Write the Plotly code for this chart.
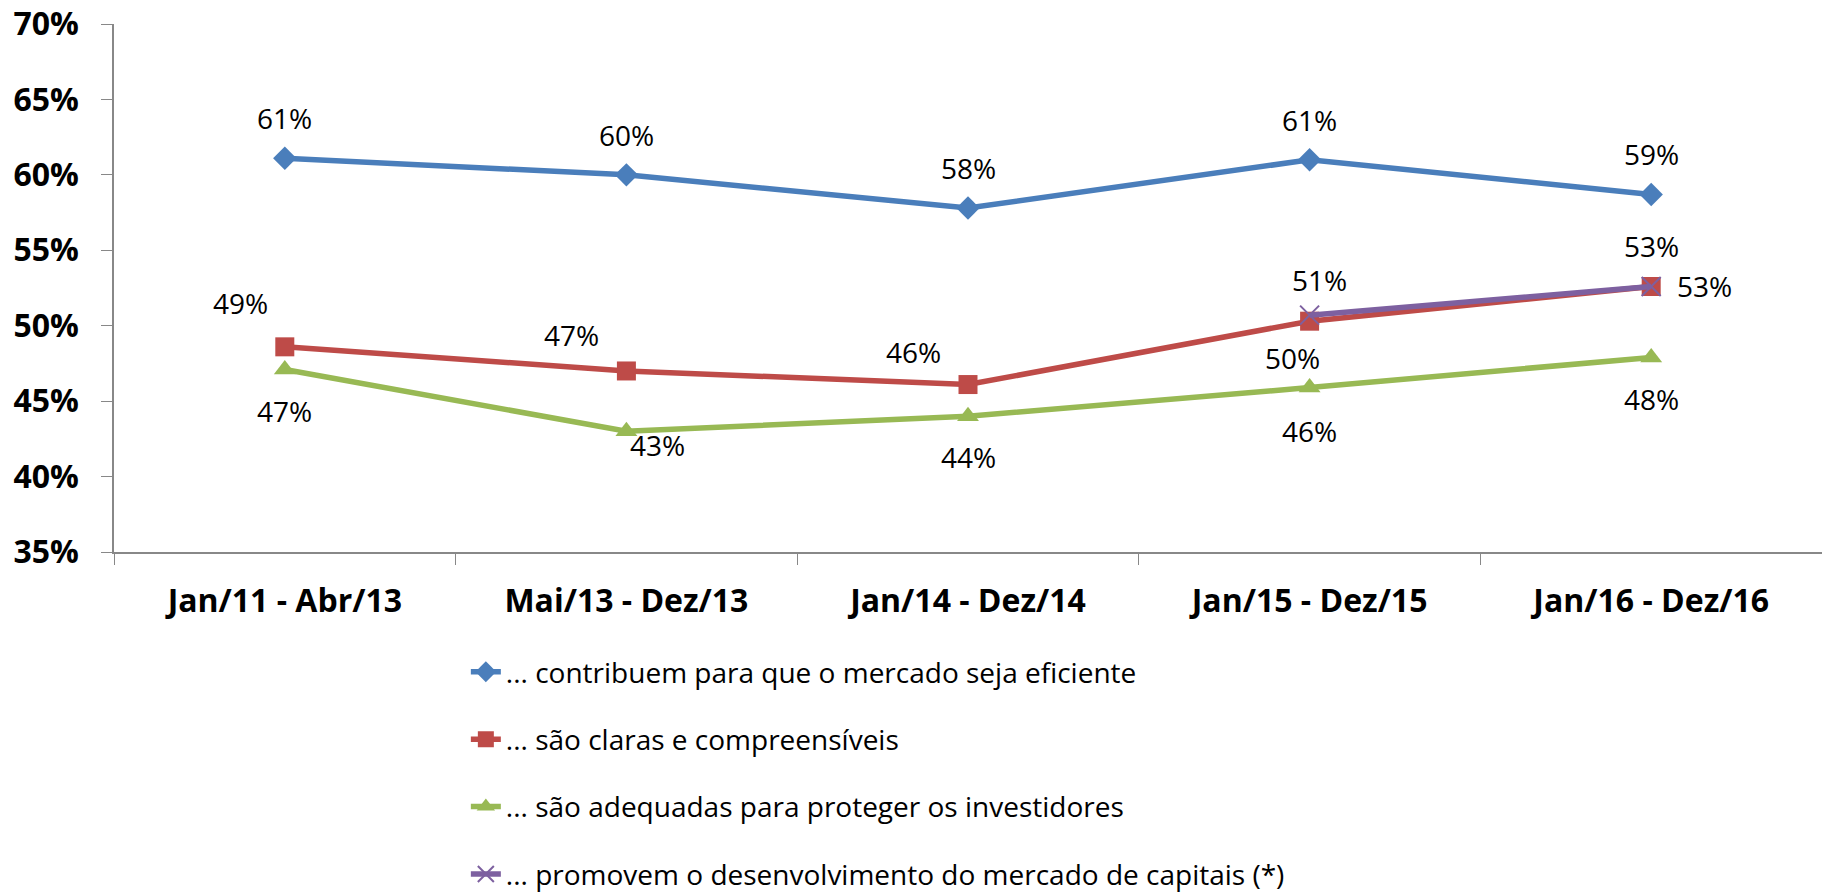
import plotly.graph_objects as go

categories = ["Jan/11 - Abr/13", "Mai/13 - Dez/13", "Jan/14 - Dez/14", "Jan/15 - Dez/15", "Jan/16 - Dez/16"]

series_names = [
    "... contribuem para que o mercado seja eficiente",
    "... são claras e compreensíveis",
    "... são adequadas para proteger os investidores",
    "... promovem o desenvolvimento do mercado de capitais (*)",
]
eficiente = [61.1, 60.0, 57.8, 61.0, 58.7]
claras = [48.6, 47.0, 46.1, 50.3, 52.6]
adequadas = [47.1, 43.0, 44.0, 45.9, 47.9]
promovem = [None, None, None, 50.7, 52.6]

y_ticks = [35, 40, 45, 50, 55, 60, 65, 70]

# styling (not data)
colors = ["#4A7EBB", "#BE4B48", "#98B954", "#7D60A0"]
symbols = ["diamond", "square", "triangle-up", "x-thin"]
sizes = [18, 19, 19, 19]
# label offsets in pixels (dx, dy with dy positive = up)
label_offsets = [
    [(0, 40)] * 5,
    [(-44, 44), (-55, 36), (-55, 33), (-17, -37), (0, 40)],
    [(0, -42), (31, -14), (0, -41), (0, -43), (0, -42)],
    [None, None, None, (10, 35), (53, 0)],
]

FONT = "Open Sans"
all_series = [eficiente, claras, adequadas, promovem]

fig = go.Figure()
for i, (name, vals) in enumerate(zip(series_names, all_series)):
    marker = dict(symbol=symbols[i], size=sizes[i], color=colors[i])
    if symbols[i] == "x-thin":
        marker["line"] = dict(color=colors[i], width=2)
    fig.add_trace(go.Scatter(
        x=categories, y=vals, name=name, mode="lines+markers",
        line=dict(color=colors[i], width=5.5),
        marker=marker, legendgroup=f"g{i}", connectgaps=False,
        hoverinfo="skip",
    ))
    for j, v in enumerate(vals):
        if v is None:
            continue
        dx, dy = label_offsets[i][j]
        fig.add_annotation(
            x=categories[j], y=v, text=f"{v:.0f}%", showarrow=False,
            xshift=dx, yshift=dy, xanchor="center", yanchor="middle",
            font=dict(family=FONT, size=28, color="black"),
        )

fig.update_layout(
    width=1822, height=896,
    margin=dict(l=114, r=0, t=24, b=344, autoexpand=False),
    paper_bgcolor="white", plot_bgcolor="white",
    showlegend=True,
    legend=dict(
        x=0.206, xanchor="left", y=-0.18, yanchor="top",
        orientation="v", traceorder="grouped", tracegroupgap=28,
        font=dict(family=FONT, size=28, color="black"),
        bgcolor="rgba(0,0,0,0)",
    ),
    xaxis=dict(
        type="category", range=[-0.5, 4.5], showgrid=False, zeroline=False,
        automargin=False,
        showline=True, linecolor="#888888", linewidth=2,
        ticks="outside", ticklen=11, tickcolor="#888888", tickwidth=1,
        tickson="boundaries", ticklabelstandoff=20,
        tickfont=dict(family=FONT, size=32, color="black", weight="bold"),
    ),
    yaxis=dict(
        range=[35, 70], tickvals=y_ticks, ticktext=[f"{t}%" for t in y_ticks],
        showgrid=False, zeroline=False, automargin=False,
        showline=True, linecolor="#888888", linewidth=1.5,
        ticks="outside", ticklen=11, tickcolor="#888888", tickwidth=1,
        ticklabelstandoff=16,
        tickfont=dict(family=FONT, size=32, color="black", weight="bold"),
    ),
)

fig.write_html(
    "out.html",
    config={"displayModeBar": False},
    post_script="document.body.style.margin='0';document.body.style.overflow='hidden';",
)
